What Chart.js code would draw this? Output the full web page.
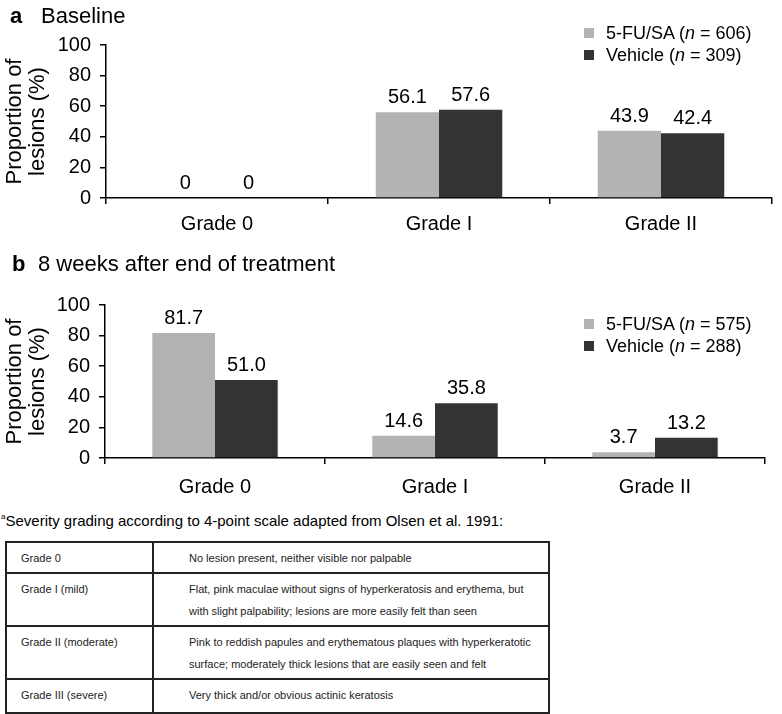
<!DOCTYPE html>
<html>
<head>
<meta charset="utf-8">
<script src="https://cdn.jsdelivr.net/npm/chart.js@4.4.1/dist/chart.umd.min.js"></script>
<style>
  body { margin: 0; background: #fff; }
  #page { position: relative; width: 782px; height: 714px; background: #fff; font-family: "Liberation Sans", Arial, sans-serif; color: #000; overflow: hidden; }
  canvas { position: absolute; left: 0; }
  .title { position: absolute; font-size: 22px; white-space: nowrap; line-height: 1; }
  .legend { position: absolute; left: 584px; font-size: 18px; white-space: nowrap; }
  .legend div { position: absolute; left: 0; height: 22px; line-height: 22px; }
  .legend span.box { position: absolute; left: 0; top: 6px; width: 10px; height: 10px; }
  .legend span.txt { position: absolute; left: 22px; top: 0; }
  .note { position: absolute; left: 1px; top: 512px; font-size: 15px; white-space: nowrap; }
  .note sup { font-size: 8px; vertical-align: 7px; }
  table { position: absolute; left: 5px; top: 541px; width: 545px; border-collapse: collapse; font-size: 11px; color: #222; }
  td { border: 2px solid #222; line-height: 22px; vertical-align: top; padding: 4px 0 0 0; }
  td.c1 { width: 131px; padding-left: 14px; }
  td.c2 { padding-left: 35px; }
</style>
</head>
<body>
<div id="page">
  <canvas id="chartA" width="782" height="245" style="top:0"></canvas>
  <canvas id="chartB" width="782" height="262" style="top:250px"></canvas>

  <div class="title" style="left:10px; top:5px"><b>a</b></div>
  <div class="title" style="left:41px; top:5px">Baseline</div>
  <div class="title" style="left:12px; top:253px"><b>b</b></div>
  <div class="title" style="left:38px; top:253px">8 weeks after end of treatment</div>

  <div class="legend" id="legendA" style="top:22px"></div>
  <div class="legend" id="legendB" style="top:313px"></div>

  <div class="note"><sup>a</sup>Severity grading according to 4-point scale adapted from Olsen et al. 1991:</div>
  <table>
    <tr style="height:31px"><td class="c1">Grade 0</td><td class="c2">No lesion present, neither visible nor palpable</td></tr>
    <tr style="height:53px"><td class="c1">Grade I (mild)</td><td class="c2">Flat, pink maculae without signs of hyperkeratosis and erythema, but<br>with slight palpability; lesions are more easily felt than seen</td></tr>
    <tr style="height:53px"><td class="c1">Grade II (moderate)</td><td class="c2">Pink to reddish papules and erythematous plaques with hyperkeratotic<br>surface; moderately thick lesions that are easily seen and felt</td></tr>
    <tr style="height:34px"><td class="c1">Grade III (severe)</td><td class="c2">Very thick and/or obvious actinic keratosis</td></tr>
  </table>
</div>

<script>
// ---- data
const categories = ["Grade 0", "Grade I", "Grade II"];
const seriesNames = ["5-FU/SA", "Vehicle"];
const baselineN = [606, 309];
const baselineFU = [0, 56.1, 43.9];
const baselineVehicle = [0, 57.6, 42.4];
const week8N = [575, 288];
const week8FU = [81.7, 14.6, 3.7];
const week8Vehicle = [51.0, 35.8, 13.2];
const yTicks = [0, 20, 40, 60, 80, 100];

const FONT = '"Liberation Sans", Arial, sans-serif';
const colors = ["#b3b3b3", "#333333"];

// legend (html so the n can be italic)
function buildLegend(el, nums) {
  seriesNames.forEach((name, i) => {
    const row = document.createElement("div");
    row.style.top = (i * 22) + "px";
    row.innerHTML = `<span class="box" style="background:${colors[i]}"></span>` +
      `<span class="txt">${name} (<i>n</i> = ${nums[i]})</span>`;
    el.appendChild(row);
  });
}
buildLegend(document.getElementById("legendA"), baselineN);
buildLegend(document.getElementById("legendB"), week8N);

// value labels over bars
const valueLabels = {
  id: "valueLabels",
  afterDatasetsDraw(chart) {
    const { ctx } = chart;
    ctx.save();
    ctx.font = "20px " + FONT;
    ctx.fillStyle = "#000";
    ctx.textAlign = "center";
    ctx.textBaseline = "alphabetic";
    chart.data.datasets.forEach((ds, i) => {
      chart.getDatasetMeta(i).data.forEach((bar, j) => {
        const v = ds.data[j];
        ctx.fillText(v === 0 ? "0" : v.toFixed(1), bar.x, bar.y - 9);
      });
    });
    ctx.restore();
  },
};

function makeChart(id, fu, veh, opt) {
  return new Chart(document.getElementById(id), {
    type: "bar",
    data: {
      labels: categories,
      datasets: [
        { label: seriesNames[0], data: fu, backgroundColor: colors[0] },
        { label: seriesNames[1], data: veh, backgroundColor: colors[1] },
      ],
    },
    options: {
      responsive: false,
      animation: false,
      layout: { padding: { top: opt.top, right: opt.right, left: 0, bottom: 0 } },
      datasets: { bar: { categoryPercentage: 0.57, barPercentage: 1.0 } },
      plugins: { legend: { display: false }, tooltip: { enabled: false } },
      scales: {
        x: {
          grid: { offset: true, drawOnChartArea: false, drawTicks: true, tickLength: 6, color: "#000", lineWidth: 1.5 },
          border: { display: true, color: "#000", width: 1.5 },
          ticks: { color: "#000", font: { family: FONT, size: 20 }, padding: opt.xPad },
          afterFit: (s) => { s.height = opt.xHeight; },
        },
        y: {
          min: 0, max: 100,
          afterBuildTicks: (s) => { s.ticks = yTicks.map(v => ({ value: v })); },
          grid: { drawOnChartArea: false, drawTicks: true, tickLength: 6, color: "#000", lineWidth: 1.5 },
          border: { display: true, color: "#000", width: 1.5 },
          ticks: { color: "#000", font: { family: FONT, size: 20 }, padding: 9 },
          title: {
            display: true,
            text: ["Proportion of", "lesions (%)"],
            color: "#000",
            font: { family: FONT, size: 22, lineHeight: 1.05 },
            padding: { top: 3, bottom: 0 },
          },
          afterFit: (s) => { s.width = opt.yWidth; },
        },
      },
    },
    plugins: [valueLabels],
  });
}

makeChart("chartA", baselineFU, baselineVehicle, { top: 45, right: 10, xHeight: 47, yWidth: 106, xPad: 8 });
makeChart("chartB", week8FU, week8Vehicle, { top: 55, right: 17, xHeight: 54, yWidth: 105, xPad: 11 });
</script>
</body>
</html>
